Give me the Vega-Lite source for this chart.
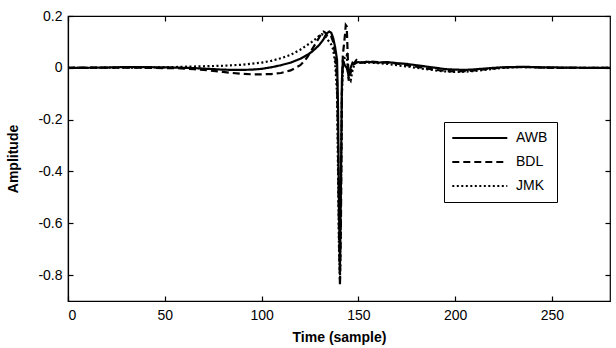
{
  "$schema": "https://vega.github.io/schema/vega-lite/v6.json",
  "autosize": {"type": "none"},
  "padding": {"left": 68, "top": 16, "right": 6, "bottom": 47},
  "width": 542,
  "height": 285,
  "background": "white",
  "config": {
    "font": "Liberation Sans",
    "view": {"stroke": "black", "strokeWidth": 1.2},
    "axis": {
      "grid": false,
      "domainColor": "black",
      "domainWidth": 1.2,
      "tickColor": "black",
      "tickWidth": 1.2,
      "tickSize": -5,
      "labelFont": "Liberation Sans",
      "labelFontSize": 14,
      "labelColor": "black",
      "titleFont": "Liberation Sans",
      "titleFontSize": 14,
      "titleFontWeight": "bold",
      "titleColor": "black"
    }
  },
  "data": {"values": [
    {"t":0,"s":"AWB","a":0},{"t":5,"s":"AWB","a":0},{"t":10,"s":"AWB","a":0},{"t":15,"s":"AWB","a":0.001},{"t":20,"s":"AWB","a":0.001},{"t":25,"s":"AWB","a":0.002},{"t":30,"s":"AWB","a":0.003},{"t":35,"s":"AWB","a":0.003},{"t":40,"s":"AWB","a":0.003},{"t":45,"s":"AWB","a":0.002},{"t":50,"s":"AWB","a":0.002},{"t":55,"s":"AWB","a":0.001},{"t":60,"s":"AWB","a":0},{"t":65,"s":"AWB","a":-0.001},{"t":70,"s":"AWB","a":-0.003},{"t":75,"s":"AWB","a":-0.005},{"t":80,"s":"AWB","a":-0.007},{"t":85,"s":"AWB","a":-0.008},{"t":90,"s":"AWB","a":-0.008},{"t":95,"s":"AWB","a":-0.007},{"t":100,"s":"AWB","a":-0.004},{"t":105,"s":"AWB","a":0.002},{"t":110,"s":"AWB","a":0.01},{"t":115,"s":"AWB","a":0.02},{"t":120,"s":"AWB","a":0.035},{"t":122,"s":"AWB","a":0.043},{"t":124,"s":"AWB","a":0.052},{"t":126,"s":"AWB","a":0.062},{"t":128,"s":"AWB","a":0.075},{"t":130,"s":"AWB","a":0.09},{"t":131,"s":"AWB","a":0.1},{"t":132,"s":"AWB","a":0.11},{"t":133,"s":"AWB","a":0.125},{"t":134,"s":"AWB","a":0.135},{"t":135,"s":"AWB","a":0.14},{"t":136,"s":"AWB","a":0.135},{"t":137,"s":"AWB","a":0.115},{"t":138,"s":"AWB","a":0.08},{"t":139,"s":"AWB","a":0.03},{"t":139.5,"s":"AWB","a":-0.15},{"t":140,"s":"AWB","a":-0.55},{"t":140.5,"s":"AWB","a":-0.77},{"t":141,"s":"AWB","a":-0.45},{"t":141.5,"s":"AWB","a":-0.05},{"t":142,"s":"AWB","a":0.03},{"t":143,"s":"AWB","a":0.01},{"t":144,"s":"AWB","a":0},{"t":145,"s":"AWB","a":-0.03},{"t":146,"s":"AWB","a":0},{"t":147,"s":"AWB","a":0.02},{"t":148,"s":"AWB","a":0.015},{"t":149,"s":"AWB","a":0.02},{"t":150,"s":"AWB","a":0.022},{"t":152,"s":"AWB","a":0.02},{"t":155,"s":"AWB","a":0.023},{"t":160,"s":"AWB","a":0.02},{"t":165,"s":"AWB","a":0.022},{"t":170,"s":"AWB","a":0.018},{"t":175,"s":"AWB","a":0.015},{"t":180,"s":"AWB","a":0.01},{"t":185,"s":"AWB","a":0.005},{"t":190,"s":"AWB","a":0},{"t":195,"s":"AWB","a":-0.005},{"t":200,"s":"AWB","a":-0.007},{"t":205,"s":"AWB","a":-0.008},{"t":210,"s":"AWB","a":-0.006},{"t":215,"s":"AWB","a":-0.003},{"t":220,"s":"AWB","a":0},{"t":225,"s":"AWB","a":0.002},{"t":230,"s":"AWB","a":0.003},{"t":235,"s":"AWB","a":0.004},{"t":240,"s":"AWB","a":0.003},{"t":245,"s":"AWB","a":0.002},{"t":250,"s":"AWB","a":0.002},{"t":255,"s":"AWB","a":0.001},{"t":260,"s":"AWB","a":0.001},{"t":265,"s":"AWB","a":0},{"t":270,"s":"AWB","a":0},{"t":275,"s":"AWB","a":0},{"t":280,"s":"AWB","a":0},
    {"t":0,"s":"BDL","a":0},{"t":5,"s":"BDL","a":0.001},{"t":10,"s":"BDL","a":0.001},{"t":15,"s":"BDL","a":0.001},{"t":20,"s":"BDL","a":0.001},{"t":25,"s":"BDL","a":0.001},{"t":30,"s":"BDL","a":0.001},{"t":35,"s":"BDL","a":0.001},{"t":40,"s":"BDL","a":0},{"t":45,"s":"BDL","a":0},{"t":50,"s":"BDL","a":-0.001},{"t":55,"s":"BDL","a":-0.001},{"t":60,"s":"BDL","a":-0.003},{"t":65,"s":"BDL","a":-0.005},{"t":70,"s":"BDL","a":-0.008},{"t":75,"s":"BDL","a":-0.012},{"t":80,"s":"BDL","a":-0.016},{"t":85,"s":"BDL","a":-0.02},{"t":90,"s":"BDL","a":-0.023},{"t":95,"s":"BDL","a":-0.025},{"t":100,"s":"BDL","a":-0.025},{"t":105,"s":"BDL","a":-0.024},{"t":110,"s":"BDL","a":-0.02},{"t":115,"s":"BDL","a":-0.01},{"t":120,"s":"BDL","a":0.01},{"t":122,"s":"BDL","a":0.025},{"t":124,"s":"BDL","a":0.045},{"t":126,"s":"BDL","a":0.07},{"t":128,"s":"BDL","a":0.095},{"t":130,"s":"BDL","a":0.12},{"t":131,"s":"BDL","a":0.135},{"t":132,"s":"BDL","a":0.14},{"t":133,"s":"BDL","a":0.135},{"t":134,"s":"BDL","a":0.12},{"t":135,"s":"BDL","a":0.115},{"t":136,"s":"BDL","a":0.12},{"t":137,"s":"BDL","a":0.1},{"t":138,"s":"BDL","a":0.05},{"t":139,"s":"BDL","a":-0.05},{"t":139.5,"s":"BDL","a":-0.3},{"t":140,"s":"BDL","a":-0.65},{"t":140.5,"s":"BDL","a":-0.84},{"t":141,"s":"BDL","a":-0.6},{"t":141.5,"s":"BDL","a":-0.1},{"t":142,"s":"BDL","a":0.05},{"t":143,"s":"BDL","a":0.12},{"t":143.5,"s":"BDL","a":0.165},{"t":144,"s":"BDL","a":0.16},{"t":144.5,"s":"BDL","a":0.05},{"t":145,"s":"BDL","a":-0.05},{"t":146,"s":"BDL","a":-0.02},{"t":147,"s":"BDL","a":0.01},{"t":148,"s":"BDL","a":0.02},{"t":149,"s":"BDL","a":0.03},{"t":150,"s":"BDL","a":0.025},{"t":152,"s":"BDL","a":0.02},{"t":155,"s":"BDL","a":0.025},{"t":160,"s":"BDL","a":0.022},{"t":165,"s":"BDL","a":0.02},{"t":170,"s":"BDL","a":0.016},{"t":175,"s":"BDL","a":0.01},{"t":180,"s":"BDL","a":0.004},{"t":185,"s":"BDL","a":-0.002},{"t":190,"s":"BDL","a":-0.008},{"t":195,"s":"BDL","a":-0.012},{"t":200,"s":"BDL","a":-0.014},{"t":205,"s":"BDL","a":-0.013},{"t":210,"s":"BDL","a":-0.01},{"t":215,"s":"BDL","a":-0.006},{"t":220,"s":"BDL","a":-0.002},{"t":225,"s":"BDL","a":0.001},{"t":230,"s":"BDL","a":0.003},{"t":235,"s":"BDL","a":0.003},{"t":240,"s":"BDL","a":0.002},{"t":245,"s":"BDL","a":0.001},{"t":250,"s":"BDL","a":0},{"t":255,"s":"BDL","a":0},{"t":260,"s":"BDL","a":0},{"t":265,"s":"BDL","a":0},{"t":270,"s":"BDL","a":0},{"t":275,"s":"BDL","a":0},{"t":280,"s":"BDL","a":0},
    {"t":0,"s":"JMK","a":0},{"t":5,"s":"JMK","a":0},{"t":10,"s":"JMK","a":0},{"t":15,"s":"JMK","a":0},{"t":20,"s":"JMK","a":0.001},{"t":25,"s":"JMK","a":0.001},{"t":30,"s":"JMK","a":0.001},{"t":35,"s":"JMK","a":0.001},{"t":40,"s":"JMK","a":0.001},{"t":45,"s":"JMK","a":0.002},{"t":50,"s":"JMK","a":0.002},{"t":55,"s":"JMK","a":0.003},{"t":60,"s":"JMK","a":0.004},{"t":65,"s":"JMK","a":0.005},{"t":70,"s":"JMK","a":0.006},{"t":75,"s":"JMK","a":0.007},{"t":80,"s":"JMK","a":0.008},{"t":85,"s":"JMK","a":0.01},{"t":90,"s":"JMK","a":0.012},{"t":95,"s":"JMK","a":0.016},{"t":100,"s":"JMK","a":0.02},{"t":105,"s":"JMK","a":0.027},{"t":110,"s":"JMK","a":0.037},{"t":115,"s":"JMK","a":0.05},{"t":120,"s":"JMK","a":0.07},{"t":122,"s":"JMK","a":0.08},{"t":124,"s":"JMK","a":0.09},{"t":126,"s":"JMK","a":0.1},{"t":128,"s":"JMK","a":0.112},{"t":130,"s":"JMK","a":0.125},{"t":131,"s":"JMK","a":0.13},{"t":132,"s":"JMK","a":0.128},{"t":133,"s":"JMK","a":0.12},{"t":134,"s":"JMK","a":0.11},{"t":135,"s":"JMK","a":0.1},{"t":136,"s":"JMK","a":0.09},{"t":137,"s":"JMK","a":0.07},{"t":138,"s":"JMK","a":0.02},{"t":139,"s":"JMK","a":-0.1},{"t":139.5,"s":"JMK","a":-0.4},{"t":140,"s":"JMK","a":-0.7},{"t":140.5,"s":"JMK","a":-0.82},{"t":141,"s":"JMK","a":-0.5},{"t":141.5,"s":"JMK","a":-0.1},{"t":142,"s":"JMK","a":0},{"t":143,"s":"JMK","a":0.04},{"t":144,"s":"JMK","a":0.05},{"t":145,"s":"JMK","a":-0.04},{"t":146,"s":"JMK","a":-0.05},{"t":147,"s":"JMK","a":-0.01},{"t":148,"s":"JMK","a":0.015},{"t":149,"s":"JMK","a":0.02},{"t":150,"s":"JMK","a":0.02},{"t":152,"s":"JMK","a":0.018},{"t":155,"s":"JMK","a":0.02},{"t":160,"s":"JMK","a":0.018},{"t":165,"s":"JMK","a":0.015},{"t":170,"s":"JMK","a":0.01},{"t":175,"s":"JMK","a":0.005},{"t":180,"s":"JMK","a":0},{"t":185,"s":"JMK","a":-0.005},{"t":190,"s":"JMK","a":-0.01},{"t":195,"s":"JMK","a":-0.014},{"t":200,"s":"JMK","a":-0.016},{"t":205,"s":"JMK","a":-0.015},{"t":210,"s":"JMK","a":-0.012},{"t":215,"s":"JMK","a":-0.008},{"t":220,"s":"JMK","a":-0.004},{"t":225,"s":"JMK","a":0},{"t":230,"s":"JMK","a":0.002},{"t":235,"s":"JMK","a":0.003},{"t":240,"s":"JMK","a":0.002},{"t":245,"s":"JMK","a":0.001},{"t":250,"s":"JMK","a":0},{"t":255,"s":"JMK","a":0},{"t":260,"s":"JMK","a":0},{"t":265,"s":"JMK","a":0},{"t":270,"s":"JMK","a":0},{"t":275,"s":"JMK","a":0},{"t":280,"s":"JMK","a":0}
  ]},
  "layer": [
    {
      "mark": {"type": "line", "color": "black", "strokeWidth": 2.2, "clip": true},
      "encoding": {
        "x": {
          "field": "t", "type": "quantitative",
          "scale": {"domain": [0, 280], "nice": false, "zero": false},
          "axis": {"values": [0, 50, 100, 150, 200, 250], "labelPadding": 12, "title": "Time (sample)", "titleBaseline": "middle", "titleY": 36}
        },
        "y": {
          "field": "a", "type": "quantitative",
          "scale": {"domain": [-0.9, 0.2], "nice": false, "zero": false},
          "axis": {"values": [-0.8, -0.6, -0.4, -0.2, 0, 0.2], "labelExpr": "'' + datum.value", "labelPadding": 11, "title": "Amplitude", "titleBaseline": "middle", "titleX": -55, "titleAngle": -90}
        },
        "strokeDash": {
          "field": "s", "type": "nominal",
          "scale": {"domain": ["AWB", "BDL", "JMK"], "range": [[1, 0], [7, 4], [2, 2.5]]},
          "legend": {
            "title": null,
            "orient": "none",
            "legendX": 376,
            "legendY": 106,
            "padding": 9,
            "rowPadding": 10,
            "strokeColor": "black",
            "fillColor": "white",
            "cornerRadius": 0,
            "symbolType": "M-1.4,0H8.6",
            "symbolSize": 121,
            "symbolStrokeWidth": 2.2,
            "symbolStrokeColor": "black",
            "labelOffset": 49,
            "labelFont": "Liberation Sans",
            "labelFontSize": 14,
            "labelColor": "black"
          }
        }
      }
    },
    {
      "mark": {"type": "line", "opacity": 0},
      "encoding": {
        "x": {"field": "t", "type": "quantitative", "axis": {"orient": "top", "values": [0, 50, 100, 150, 200, 250], "labels": false, "domain": false, "title": null}},
        "y": {"field": "a", "type": "quantitative", "axis": {"orient": "right", "values": [-0.8, -0.6, -0.4, -0.2, 0, 0.2], "labels": false, "domain": false, "title": null}}
      }
    }
  ],
  "resolve": {"axis": {"x": "independent", "y": "independent"}}
}
